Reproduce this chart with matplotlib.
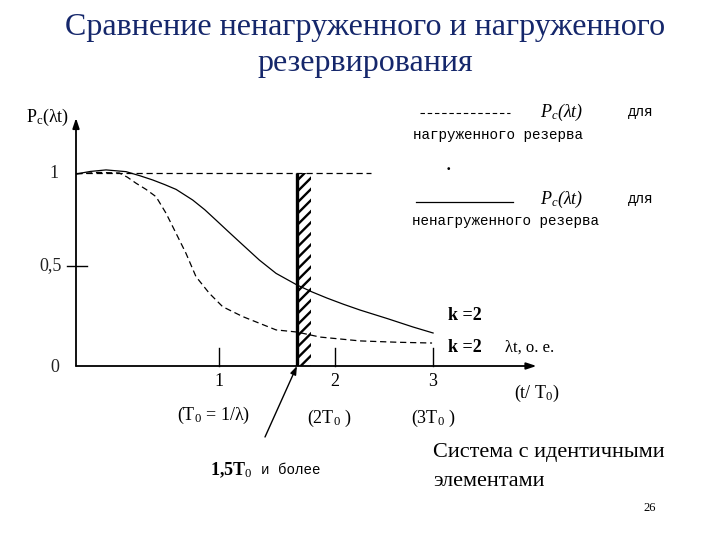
import matplotlib
matplotlib.use("Agg")
import matplotlib.pyplot as plt
from matplotlib.patches import Rectangle
from matplotlib.lines import Line2D

plt.rcParams['hatch.linewidth'] = 1.7
plt.rcParams['mathtext.fontset'] = 'custom'
plt.rcParams['mathtext.rm'] = 'Liberation Serif'
plt.rcParams['mathtext.it'] = 'Liberation Serif:italic'
plt.rcParams['mathtext.bf'] = 'Liberation Serif:bold'

# ---- data (chart units: x in lambda*t axis units, y = P_c) ----
unloaded_x = [0, 0.1, 0.21, 0.35, 0.45, 0.536, 0.62, 0.70, 0.816, 0.9, 0.979, 1.06, 1.142, 1.282, 1.399,
              1.545, 1.65, 1.755, 1.87, 1.986, 2.18, 2.357, 2.497]
unloaded_y = [0.995, 1.008, 1.016, 1.007, 0.985, 0.964, 0.94, 0.915, 0.86, 0.81, 0.756, 0.70, 0.644, 0.549, 0.48,
              0.42, 0.384, 0.352, 0.32, 0.29, 0.245, 0.202, 0.171]
loaded_x = [0, 0.15, 0.303, 0.36, 0.42, 0.49, 0.56, 0.63, 0.70, 0.769, 0.839, 0.932, 1.026, 1.166, 1.399,
            1.545, 1.706, 1.986, 2.25, 2.49]
loaded_y = [0.995, 1.003, 1.0, 0.978, 0.947, 0.915, 0.877, 0.791, 0.687, 0.584, 0.463, 0.377, 0.307, 0.256, 0.187,
            0.176, 0.15, 0.13, 0.123, 0.119]
xtick_pos = [1.0, 1.811, 2.497]
xtick_labels = ["1", "2", "3"]
xtick_sub = ["(T$_0$ = 1/λ)", "(2T$_0$ )", "(3T$_0$ )"]
ytick_pos = [0, 0.52, 1.0]
ytick_labels = ["0", "0,5", "1"]
level_one = 1.0
level_one_end = 2.06
threshold_x = 1.545
hatch_width = 0.085

W, H = 720, 540
fig = plt.figure(figsize=(7.2, 5.4), dpi=100)
fig.patch.set_facecolor("white")

def P(x, y):
    return (x / W, 1 - y / H)

# axes: x 0..3.4 -> px 76..562 ; y 0..1.3 -> px 366..115
x_px0, y_px0 = 76, 366
sx, sy = 143.0, 193.0
xmax, ymax = 3.4, 1.3
ax = fig.add_axes([x_px0 / W, (H - y_px0) / H, xmax * sx / W, ymax * sy / H])
ax.set_xlim(0, xmax)
ax.set_ylim(0, ymax)
ax.axis("off")

serif = "Liberation Serif"
mono = "Liberation Mono"

# axes arrows
ax.annotate("", xy=(3.22, 0), xytext=(0, 0), annotation_clip=False,
            arrowprops=dict(arrowstyle="-|>,head_length=0.6,head_width=0.2", lw=1.3, color="black", shrinkA=0, shrinkB=0))
ax.annotate("", xy=(0, 1.285), xytext=(0, 0), annotation_clip=False,
            arrowprops=dict(arrowstyle="-|>,head_length=0.6,head_width=0.2", lw=1.3, color="black", shrinkA=0, shrinkB=0))

# ticks
for xp in xtick_pos:
    ax.plot([xp, xp], [0, 0.093], color="black", lw=1.0, clip_on=False)
ax.plot([-0.063, 0.077], [ytick_pos[1], ytick_pos[1]], color="black", lw=1.0, clip_on=False)

# curves
ax.plot(unloaded_x, unloaded_y, color="black", lw=0.9, solid_joinstyle="round")
ax.plot(loaded_x, loaded_y, color="black", lw=0.9, ls=(0, (5, 3)))
ax.plot([0, level_one_end], [level_one, level_one], color="black", lw=0.9, ls=(0, (5, 3)))

# threshold line + hatched band
ax.plot([threshold_x, threshold_x], [0, 1.0], color="black", lw=2.4, solid_capstyle="butt")
ax.add_patch(Rectangle((threshold_x + 0.015, 0), hatch_width, 1.0, facecolor="white",
                       edgecolor="black", hatch="///", lw=0))

# arrow to threshold
ax.annotate("", xy=(threshold_x, 0.0), xytext=((265 - x_px0) / sx, (y_px0 - 437) / sy),
            annotation_clip=False,
            arrowprops=dict(arrowstyle="-|>,head_length=0.5,head_width=0.18", lw=1.0, color="black",
                            shrinkA=0, shrinkB=0))

# y labels
ax.text(-0.12, 1.0, ytick_labels[2], ha="right", va="center", fontsize=13, family=serif, color="#222")
ax.text(-0.1, ytick_pos[1], ytick_labels[1], ha="right", va="center", fontsize=13, family=serif, color="#222")
ax.text(-0.12, -0.01, ytick_labels[0], ha="right", va="center", fontsize=13, family=serif, color="#222")
fig.text(*P(26, 117), "P$_\\mathrm{c}$(λt)", ha="left", va="center", fontsize=13, family=serif)

# x labels
for xp, lab in zip(xtick_pos, xtick_labels):
    ax.text(xp, -0.08, lab, ha="center", va="center", fontsize=13, family=serif)
fig.text(*P(214, 415), xtick_sub[0], ha="center", va="center", fontsize=13, family=serif)
fig.text(*P(329, 418), xtick_sub[1], ha="center", va="center", fontsize=13, family=serif)
fig.text(*P(433, 418), xtick_sub[2], ha="center", va="center", fontsize=13, family=serif)
fig.text(*P(537, 393), "(t/ T$_0$)", ha="center", va="center", fontsize=13, family=serif)
fig.text(*P(505, 348), "λt, о. е.", ha="left", va="center", fontsize=12, family=serif)
fig.text(*P(448, 315), "k =2", ha="left", va="center", fontsize=13, family=serif, weight="bold")
fig.text(*P(448, 347), "k =2", ha="left", va="center", fontsize=13, family=serif, weight="bold")

# threshold annotation
fig.text(*P(210, 470), "1,5T$_0$", ha="left", va="center", fontsize=13, family=serif, weight="bold")
fig.text(*P(261, 470), "и более", ha="left", va="center", fontsize=10.3, family=mono)

# legend
fig.add_artist(Line2D([420 / W, 510 / W], [1 - 113 / H, 1 - 113 / H], color="black", lw=0.8, ls=(0, (4, 2.5))))
fig.add_artist(Line2D([416 / W, 513 / W], [1 - 202 / H, 1 - 202 / H], color="black", lw=0.9))
for yy in (112, 199):
    fig.text(*P(540, yy), "$P_c$(λt)", ha="left", va="center", fontsize=13, family=serif, style="italic")
    fig.text(*P(628, yy), "для", ha="left", va="center", fontsize=10.3, family=mono)
fig.text(*P(413, 135), "нагруженного резерва", ha="left", va="center", fontsize=10.3, family=mono)
fig.text(*P(412, 221), "ненагруженного резерва", ha="left", va="center", fontsize=10.3, family=mono)
fig.text(*P(448, 170), "·", ha="center", va="center", fontsize=12, family=serif, weight="bold")

# title
fig.text(0.507, 1 - 27 / H, "Сравнение ненагруженного и нагруженного", ha="center", va="center",
         fontsize=23, family=serif, color="#15276b")
fig.text(0.507, 1 - 63 / H, "резервирования", ha="center", va="center",
         fontsize=23, family=serif, color="#15276b")

# footnote text
fig.text(*P(433, 452), "Система с идентичными", ha="left", va="center", fontsize=16, family=serif)
fig.text(*P(433, 482), "элементами", ha="left", va="center", fontsize=16, family=serif)
fig.text(*P(650, 508), "26", ha="center", va="center", fontsize=9, family=serif)

fig.savefig("out.png", dpi=100)
